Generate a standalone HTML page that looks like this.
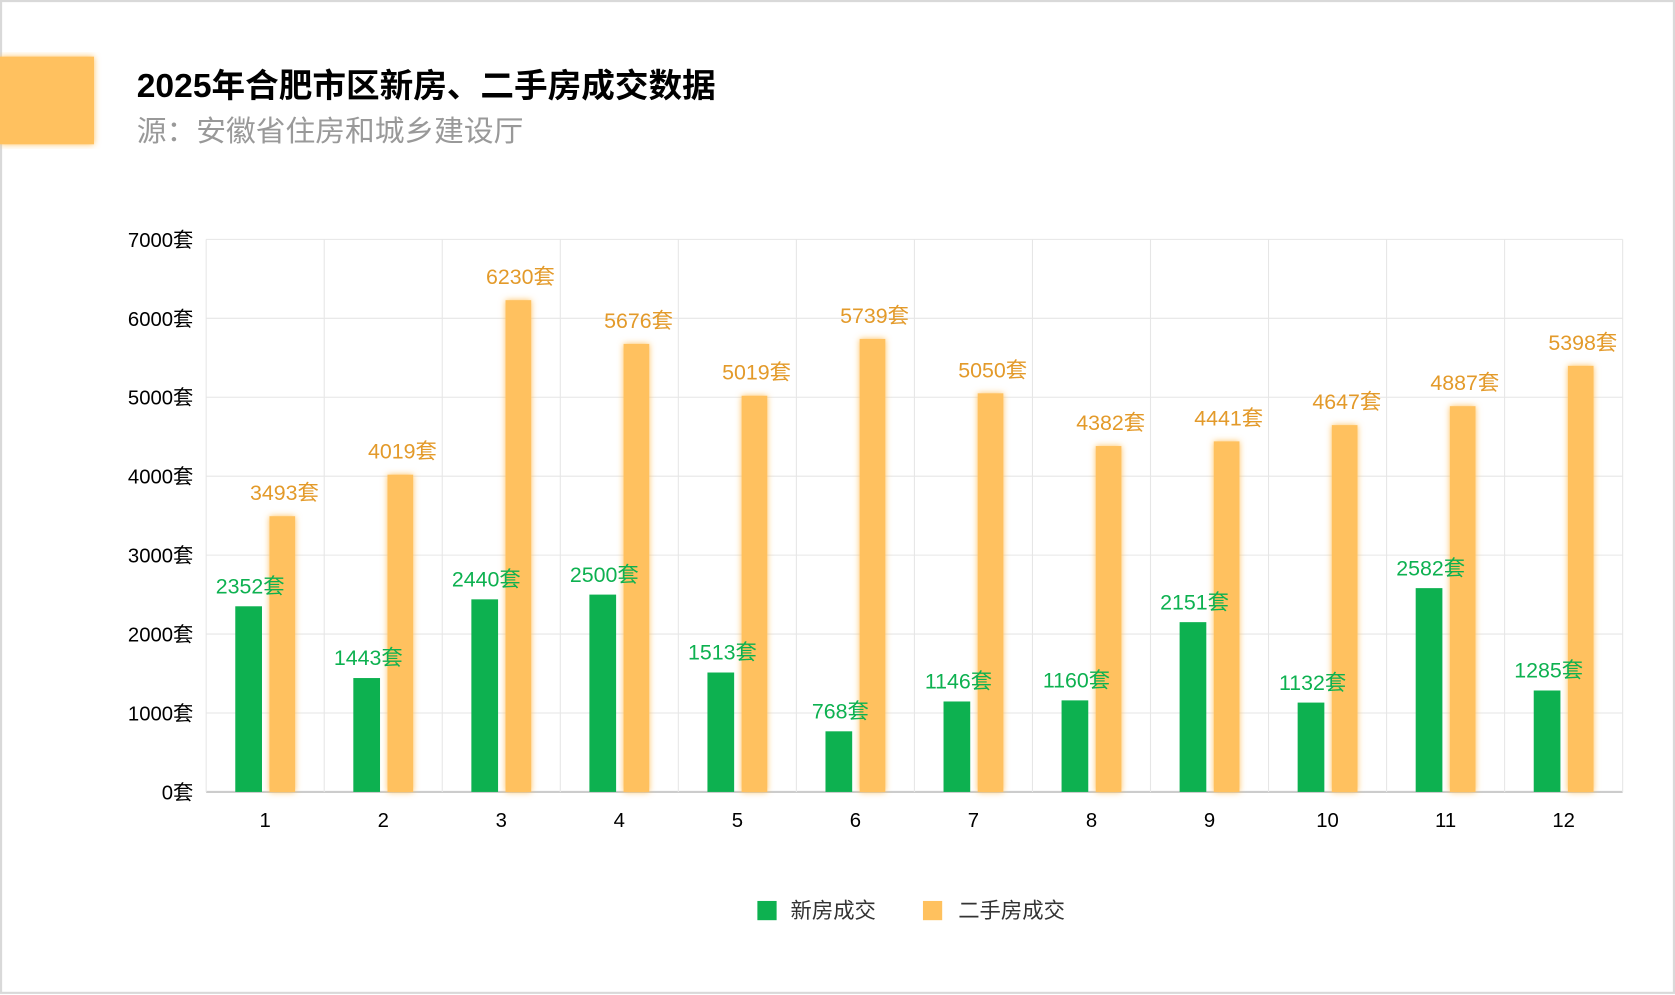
<!DOCTYPE html>
<html><head><meta charset="utf-8"><style>
html,body{margin:0;padding:0;background:#fff;}
svg{display:block;font-family:"Liberation Sans","Noto Sans CJK SC",sans-serif;}
</style></head><body>
<svg width="1675" height="995" viewBox="0 0 1568 931" preserveAspectRatio="none" id="svg">
<defs>
<filter id="bs" x="-40%" y="-5%" width="180%" height="110%"><feGaussianBlur in="SourceGraphic" stdDeviation="3" result="b"/><feMerge><feMergeNode in="b"/><feMergeNode in="SourceGraphic"/></feMerge></filter>
</defs>
<rect x="1" y="1" width="1566" height="928" fill="#fff" stroke="#d9d9d9" stroke-width="2"/>
<rect x="0" y="53" width="88" height="82" fill="#ffc15e" filter="url(#bs)"/>
<text x="128" y="91" font-size="31" font-weight="bold" fill="#000" textLength="542" lengthAdjust="spacingAndGlyphs">2025年合肥市区新房、二手房成交数据</text>
<text x="128" y="132" font-size="27" fill="#999" textLength="362" lengthAdjust="spacingAndGlyphs">源：安徽省住房和城乡建设厅</text>
<g id="grid"></g><g id="bars"></g><g id="labels"></g>
<g>
<rect x="709" y="843" width="18" height="18" fill="#0db150"/>
<text x="740" y="859" font-size="20" fill="#333">新房成交</text>
<rect x="864" y="843" width="18" height="18" fill="#ffc15e"/>
<text x="897" y="859" font-size="20" fill="#333">二手房成交</text>
</g>
</svg>
<script>
const categories=["1","2","3","4","5","6","7","8","9","10","11","12"];
const newHomes=[2352,1443,2440,2500,1513,768,1146,1160,2151,1132,2582,1285];
const resale=[3493,4019,6230,5676,5019,5739,5050,4382,4441,4647,4887,5398];
const yTicks=[0,1000,2000,3000,4000,5000,6000,7000];
const NS="http://www.w3.org/2000/svg";
const L=193,R=1519,T=224,B=741,YMAX=7000;
const cw=(R-L)/categories.length;
const y=v=>B-(v/YMAX)*(B-T);
const xc=i=>L+cw*(i+0.5);
function mk(tag,attrs,parent){const e=document.createElementNS(NS,tag);for(const k in attrs)e.setAttribute(k,attrs[k]);document.getElementById(parent).appendChild(e);return e;}
yTicks.forEach(t=>{
  const l=mk('line',{x1:L,x2:R,y1:y(t),y2:y(t),stroke:t===0?'#ccc':'#e6e6e6','stroke-width':t===0?2:1},'grid');
  
  
  const tx=mk('text',{x:181,y:y(t)+7,'font-size':19,'text-anchor':'end',fill:'#000'},'grid');
  tx.textContent=t+'套';
  
  
});
for(let i=0;i<=categories.length;i++){
  const l=mk('line',{x1:L+cw*i,x2:L+cw*i,y1:T,y2:B,stroke:'#e6e6e6','stroke-width':1},'grid');
  
  
}
categories.forEach((c,i)=>{
  const cx=xc(i);
  const tx=mk('text',{x:cx,y:774,'font-size':19,'text-anchor':'middle',fill:'#000'},'labels');
  tx.textContent=c;
  
  
  const g=mk('rect',{x:cx-28,y:y(newHomes[i]),width:25,height:B-y(newHomes[i]),fill:'#0db150'},'bars');
  
  
  const o=mk('rect',{x:cx+4,y:y(resale[i]),width:24,height:B-y(resale[i]),fill:'#ffc15e',filter:'url(#bs)'},'bars');
  
  
  const gl=mk('text',{x:cx-14,y:y(newHomes[i])-12,'font-size':20,'text-anchor':'middle',fill:'#0db150'},'labels');
  gl.textContent=newHomes[i]+'套';
  
  
  const ol=mk('text',{x:cx+18,y:y(resale[i])-15,'font-size':20,'text-anchor':'middle',fill:'#e39a2a'},'labels');
  ol.textContent=resale[i]+'套';
  
  
});
</script>
</body></html>
